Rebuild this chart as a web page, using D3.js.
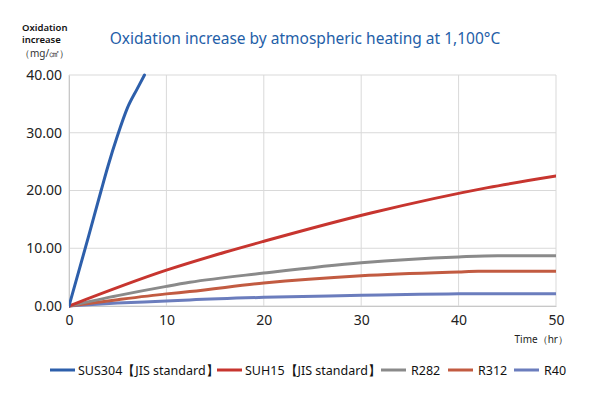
<!DOCTYPE html>
<html lang="en">
<head>
    <meta charset="UTF-8">
    <title>Oxidation increase</title>
    <script src="https://cdnjs.cloudflare.com/ajax/libs/d3/7.8.5/d3.min.js"></script>
    <style>
        body {
            margin: 0;
            background: #ffffff;
            font-family: "Noto Sans", "Open Sans", sans-serif;
        }
        .grid line { stroke: #d9d9d9; stroke-width: 1px; }
        .tick text { fill: #222; }
        .series { fill: none; stroke-width: 3px; stroke-linejoin: round; stroke-linecap: round; }
    </style>
</head>
<body>
    <div id="chart"></div>
    <script>
        // chart values
        const seriesNames = ["SUS304【JIS standard】", "SUH15【JIS standard】", "R282", "R312", "R40"];
        const seriesColors = ["#2d5fab", "#c7352f", "#8a8a8a", "#c25b41", "#6b7dbd"];

        const sus304Hours = [0, 2, 3.3, 4, 5, 6, 7, 7.75];
        const sus304Values = [0, 12, 20, 24.2, 29.6, 34.3, 37.6, 40];

        const suh15Hours = [0, 10, 16, 20, 31, 43, 50];
        const suh15Values = [0, 6.2, 9.3, 11.2, 16.1, 20.5, 22.5];

        const r282Hours = [0, 5, 10, 12.4, 20, 30, 40, 44, 50];
        const r282Values = [0, 1.8, 3.4, 4.1, 5.7, 7.5, 8.5, 8.7, 8.7];

        const r312Hours = [0, 5, 10, 12.4, 20, 30, 40, 42, 50];
        const r312Values = [0, 1.1, 2.1, 2.5, 4.0, 5.25, 5.9, 6.0, 6.0];

        const r40Hours = [0, 5, 10, 12.4, 20, 30, 36, 40, 50];
        const r40Values = [0, 0.5, 0.85, 1.05, 1.5, 1.85, 2.05, 2.1, 2.1];

        const xTicks = [0, 10, 20, 30, 40, 50];
        const yTicks = [0, 10, 20, 30, 40];

        const allHours = [sus304Hours, suh15Hours, r282Hours, r312Hours, r40Hours];
        const allValues = [sus304Values, suh15Values, r282Values, r312Values, r40Values];

        const W = 594, H = 412;
        const plot = {left: 69, right: 556, top: 75, bottom: 306};

        const svg = d3.select("#chart").append("svg")
            .attr("width", W)
            .attr("height", H);

        const x = d3.scaleLinear().domain([0, 50]).range([plot.left, plot.right]);
        const y = d3.scaleLinear().domain([0, 40]).range([plot.bottom, plot.top]);

        // title
        svg.append("text")
            .attr("x", 305)
            .attr("y", 44)
            .attr("text-anchor", "middle")
            .attr("fill", "#1f60a8")
            .style("font-size", "15.5px")
            .text("Oxidation increase by atmospheric heating at 1,100°C");

        // y axis title
        svg.append("text")
            .attr("x", 22).attr("y", 31)
            .attr("fill", "#111")
            .style("font-size", "9.5px")
            .style("font-weight", "600")
            .text("Oxidation");
        svg.append("text")
            .attr("x", 22).attr("y", 43)
            .attr("fill", "#111")
            .style("font-size", "9.5px")
            .style("font-weight", "600")
            .text("increase");
        svg.append("text")
            .attr("x", 20)
            .attr("y", 57)
            .attr("fill", "#333")
            .style("font-size", "10px")
            .text("（mg/㎠）");

        // gridlines
        svg.append("g")
            .attr("class", "grid")
            .selectAll("line.h")
            .data(yTicks)
            .join("line")
            .attr("x1", plot.left).attr("x2", plot.right)
            .attr("y1", d => y(d)).attr("y2", d => y(d));
        svg.append("g")
            .attr("class", "grid")
            .selectAll("line.v")
            .data(xTicks)
            .join("line")
            .attr("x1", d => x(d)).attr("x2", d => x(d))
            .attr("y1", plot.top).attr("y2", plot.bottom);

        // axes
        const xAxis = svg.append("g")
            .attr("transform", `translate(0,${plot.bottom})`)
            .call(d3.axisBottom(x).tickValues(xTicks).tickSize(0).tickPadding(9));
        xAxis.select(".domain").attr("stroke", "#c8c8c8");
        xAxis.selectAll("text").style("font-size", "14px").style("font-family", "Noto Sans");

        const yAxis = svg.append("g")
            .attr("transform", `translate(${plot.left},0)`)
            .call(d3.axisLeft(y).tickValues(yTicks).tickSize(0).tickPadding(7).tickFormat(d3.format(".2f")));
        yAxis.select(".domain").attr("stroke", "#c8c8c8");
        yAxis.selectAll("text").style("font-size", "14px").style("font-family", "Noto Sans");

        svg.append("text")
            .attr("x", 568)
            .attr("y", 343)
            .attr("text-anchor", "end")
            .attr("fill", "#222")
            .style("font-size", "10px")
            .text("Time（hr）");

        // series lines
        svg.append("clipPath").attr("id", "clip")
            .append("rect")
            .attr("x", plot.left).attr("y", plot.top - 2)
            .attr("width", plot.right - plot.left).attr("height", plot.bottom - plot.top + 4);

        const line = d3.line()
            .x(d => x(d[0]))
            .y(d => y(d[1]))
            .curve(d3.curveMonotoneX);

        const drawOrder = [4, 3, 2, 1, 0];
        drawOrder.forEach(i => {
            const pts = allHours[i].map((h, k) => [h, allValues[i][k]]);
            svg.append("path")
                .datum(pts)
                .attr("class", "series")
                .attr("clip-path", "url(#clip)")
                .attr("stroke", seriesColors[i])
                .attr("d", line);
        });

        // legend
        const legendX = [50, 217, 381, 448, 514];
        const legend = svg.append("g").attr("transform", "translate(0,370)");
        seriesNames.forEach((name, i) => {
            const g = legend.append("g").attr("transform", `translate(${legendX[i]},0)`);
            g.append("line")
                .attr("x1", 0).attr("x2", 25)
                .attr("stroke", seriesColors[i])
                .attr("stroke-width", 3);
            g.append("text")
                .attr("x", i < 2 ? 28 : 30)
                .attr("y", 5)
                .attr("fill", "#111")
                .style("font-size", "12.5px")
                .text(name);
        });
    </script>
</body>
</html>
